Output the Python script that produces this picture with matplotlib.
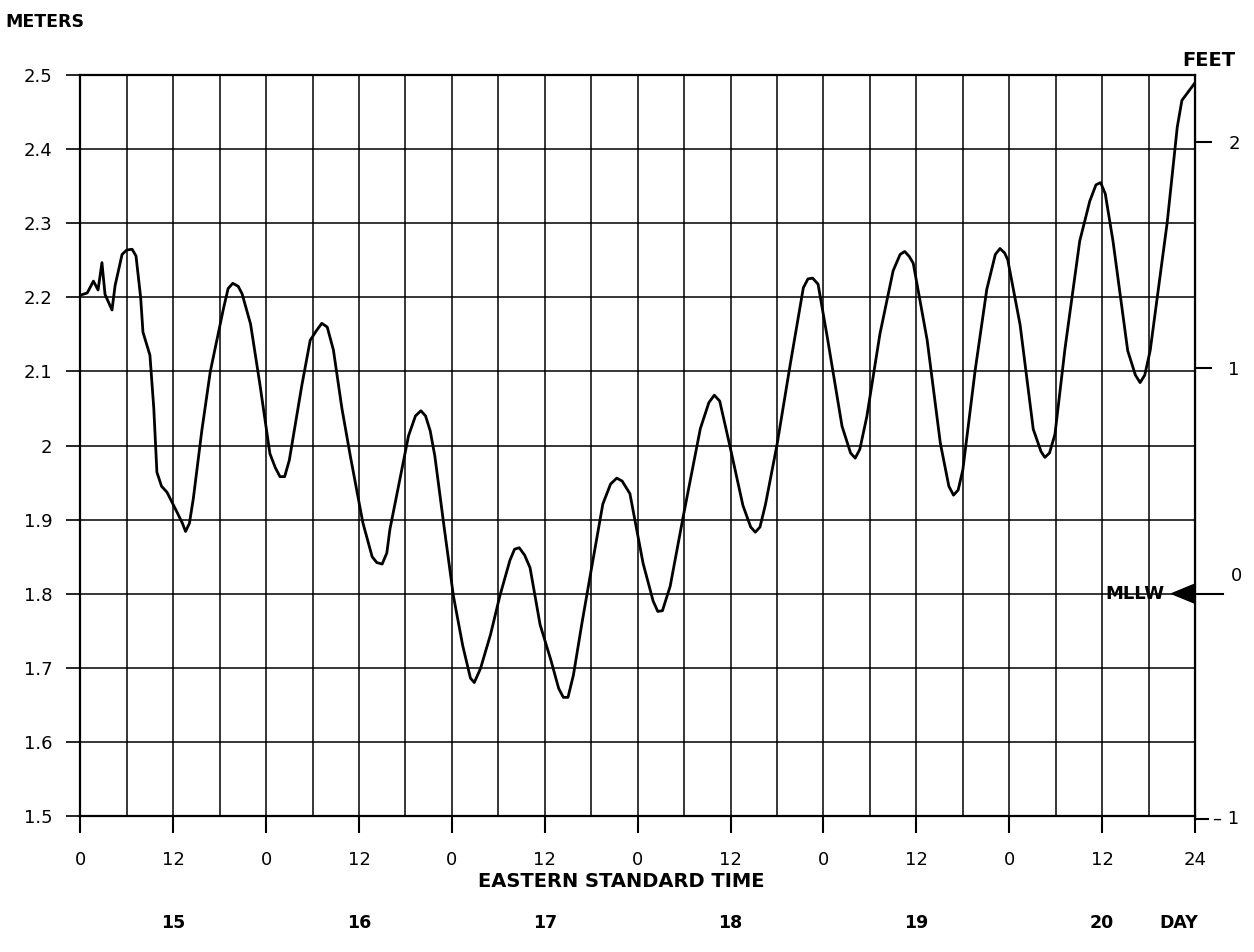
import numpy as np
import matplotlib
matplotlib.use("Agg")
import matplotlib.pyplot as plt
from matplotlib.patches import Polygon

# --- data (hours from day 15, 00:00 EST) ---
hours = [0, 0.9, 1.7, 2.3, 2.8, 3.2, 4.1, 4.5, 5.4, 6.0, 6.7, 7.2, 7.8, 8.1, 9.0,
         9.5, 9.9, 10.5, 11.2, 12.5, 13.2, 13.6, 14.1, 14.6, 15.7, 16.8, 18.0,
         18.5, 19.1, 19.7, 20.4, 20.9, 22.0, 23.2, 24.5, 25.2, 25.8, 26.4, 27.0,
         27.5, 28.6, 29.7, 30.5, 31.2, 31.9, 32.7, 33.8, 34.9, 36.5, 37.7, 38.3,
         39.0, 39.6, 40.0, 41.2, 42.4, 43.3, 44.0, 44.6, 45.2, 45.8, 47.0, 48.2,
         49.4, 50.4, 50.9, 51.7, 53.0, 54.2, 55.5, 56.1, 56.7, 57.4, 58.1, 59.4,
         60.8, 61.8, 62.4, 63.0, 63.7, 64.8, 65.9, 67.5, 68.5, 69.3, 70.0, 71.0,
         72.7, 74.0, 74.6, 75.2, 76.2, 77.9, 80.1, 81.2, 81.9, 82.6, 83.9, 85.6,
         86.6, 87.2, 87.8, 88.5, 90.0, 91.7, 93.4, 94.0, 94.6, 95.3, 96.5, 98.4,
         99.5, 100.1, 100.7, 101.6, 103.3, 105.0, 105.9, 106.5, 107.1, 107.6,
         109.4, 111.1, 112.2, 112.8, 113.4, 114.0, 115.6, 117.1, 118.2, 118.8,
         119.4, 119.8, 121.4, 123.1, 124.1, 124.6, 125.2, 125.9, 127.2, 129.1,
         130.4, 131.2, 131.8, 132.4, 133.4, 135.3, 136.3, 136.9, 137.5, 138.2,
         140.4, 141.7, 142.3, 143.3, 144.0]
level_m = [2.203, 2.206, 2.222, 2.210, 2.247, 2.204, 2.183, 2.216, 2.258, 2.264,
           2.265, 2.256, 2.200, 2.153, 2.122, 2.050, 1.964, 1.945, 1.937, 1.910,
           1.895, 1.884, 1.895, 1.928, 2.020, 2.100, 2.160, 2.185, 2.212, 2.219,
           2.215, 2.205, 2.164, 2.083, 1.989, 1.970, 1.958, 1.958, 1.980, 2.011,
           2.080, 2.142, 2.155, 2.165, 2.160, 2.129, 2.050, 1.985, 1.896, 1.850,
           1.842, 1.840, 1.855, 1.887, 1.950, 2.013, 2.040, 2.047, 2.040, 2.020,
           1.986, 1.890, 1.797, 1.730, 1.686, 1.680, 1.699, 1.745, 1.797, 1.845,
           1.860, 1.862, 1.852, 1.835, 1.758, 1.710, 1.672, 1.660, 1.660, 1.690,
           1.760, 1.826, 1.921, 1.948, 1.956, 1.952, 1.935, 1.841, 1.790, 1.776,
           1.777, 1.810, 1.905, 2.023, 2.058, 2.068, 2.060, 2.000, 1.919, 1.890,
           1.883, 1.890, 1.920, 2.001, 2.109, 2.213, 2.225, 2.226, 2.218, 2.146,
           2.026, 1.990, 1.983, 1.995, 2.039, 2.151, 2.236, 2.258, 2.262, 2.255,
           2.246, 2.142, 2.003, 1.945, 1.933, 1.940, 1.967, 2.102, 2.211, 2.258,
           2.266, 2.260, 2.251, 2.163, 2.022, 1.992, 1.984, 1.990, 2.015, 2.131,
           2.276, 2.330, 2.352, 2.355, 2.340, 2.276, 2.128, 2.095, 2.085, 2.095,
           2.128, 2.301, 2.430, 2.466, 2.480, 2.490]

hour_ticks = [0, 12, 24, 36, 48, 60, 72, 84, 96, 108, 120, 132, 144]
hour_labels = ['0', '12', '0', '12', '0', '12', '0', '12', '0', '12', '0', '12', '24']
days = ['15', '16', '17', '18', '19', '20']
meter_ticks = [1.5, 1.6, 1.7, 1.8, 1.9, 2.0, 2.1, 2.2, 2.3, 2.4, 2.5]
feet_ticks = [2, 1]
mllw_m = 1.80   # 0 ft

fig = plt.figure(figsize=(12.54, 9.52), dpi=100)
ax = fig.add_axes([0.064, 0.143, 0.889, 0.778])

ax.plot(hours, level_m, color='black', lw=2.0, zorder=3)
ax.set_xlim(0, 144)
ax.set_ylim(1.5, 2.5)

# grid: every 6 h and every 0.1 m
ax.set_xticks(np.arange(0, 145, 6), minor=True)
ax.set_xticks(hour_ticks)
ax.set_xticklabels(hour_labels)
ax.set_yticks(meter_ticks)
ax.set_yticklabels([f"{v:g}" for v in meter_ticks])
ax.grid(True, which='both', axis='x', color='black', lw=1.1)
ax.grid(True, which='major', axis='y', color='black', lw=1.1)
ax.tick_params(axis='x', which='major', direction='out', length=12, width=1.5,
               pad=13, labelsize=13)
ax.tick_params(axis='x', which='minor', length=0)
ax.tick_params(axis='y', direction='out', length=10, width=1.2, pad=10, labelsize=13)
for s in ax.spines.values():
    s.set_linewidth(1.6)

# right-hand feet scale (0 ft = MLLW)
sec = ax.secondary_yaxis('right', functions=(lambda m: (m - mllw_m) / 0.3048,
                                             lambda f: f * 0.3048 + mllw_m))
sec.set_yticks(feet_ticks)
sec.set_yticklabels([str(f) for f in feet_ticks])
sec.tick_params(direction='out', length=12, width=1.5, pad=12, labelsize=13)

ytr = ax.get_yaxis_transform()
xtr = ax.get_xaxis_transform()
fig.text(0.004, 0.977, 'METERS', fontsize=12.5, fontweight='bold', va='center', ha='left')
ax.text(1.012, 1.007, 'FEET', transform=ax.transAxes, fontsize=14, fontweight='bold',
        ha='center', va='bottom')

# MLLW marker
ax.text(0.973, mllw_m, 'MLLW', transform=ytr, fontsize=13, fontweight='bold',
        ha='right', va='center')
ax.add_patch(Polygon([[0.979, mllw_m], [1.0, mllw_m + 0.013], [1.0, mllw_m - 0.013]],
                     closed=True, transform=ytr, color='black', clip_on=False))
ax.plot([1.0, 1.025], [mllw_m, mllw_m], transform=ytr, color='black', lw=1.5,
        clip_on=False)
ax.text(1.032, mllw_m + 0.012, '0', transform=ytr, fontsize=13, ha='left', va='bottom')

# -1 ft at the bottom edge
m_minus1 = mllw_m - 0.3048
ax.plot([1.0, 1.012], [m_minus1, m_minus1], transform=ytr, color='black', lw=1.5,
        clip_on=False)
ax.text(1.016, m_minus1, '– 1', transform=ytr, fontsize=13, ha='left', va='center')

# axis captions
ax.text(0.485, -0.088, 'EASTERN STANDARD TIME', transform=ax.transAxes, fontsize=14,
        fontweight='bold', ha='center', va='center')
for i, d in enumerate(days):
    ax.text(12 + 24 * i, -0.145, d, transform=xtr, fontsize=12.5, fontweight='bold',
            ha='center', va='center')
ax.text(0.985, -0.145, 'DAY', transform=ax.transAxes, fontsize=12.5, fontweight='bold',
        ha='center', va='center')

fig.savefig('out.png', dpi=100)
